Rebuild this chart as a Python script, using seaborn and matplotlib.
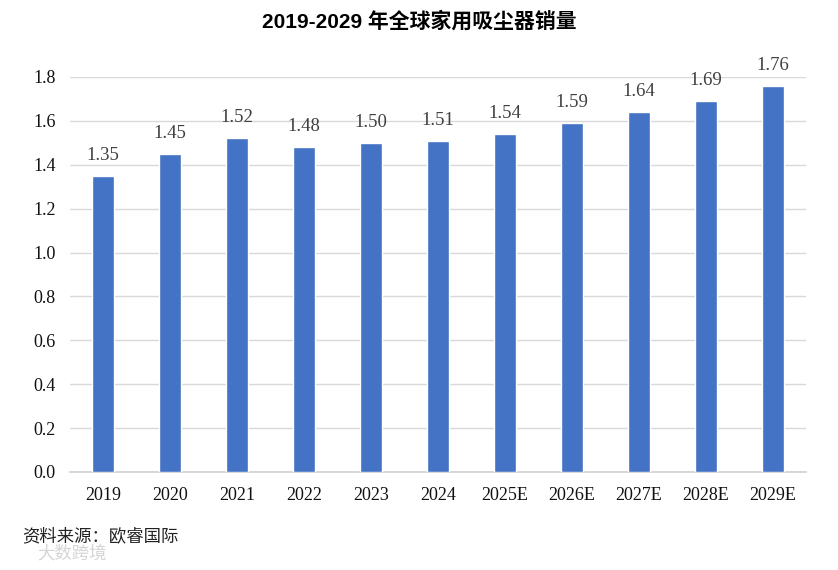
import matplotlib.pyplot as plt
import seaborn as sns
import pandas as pd

years = ['2019', '2020', '2021', '2022', '2023', '2024',
         '2025E', '2026E', '2027E', '2028E', '2029E']
sales = [1.35, 1.45, 1.52, 1.48, 1.50, 1.51, 1.54, 1.59, 1.64, 1.69, 1.76]
y_ticks = [0.0, 0.2, 0.4, 0.6, 0.8, 1.0, 1.2, 1.4, 1.6, 1.8]

sns.set_style('white')
plt.rcParams['font.family'] = ['Liberation Serif', 'Noto Sans CJK SC', 'DejaVu Sans']

df = pd.DataFrame({'year': years, 'sales': sales})

fig = plt.figure(figsize=(8.38, 5.7), dpi=100)
ax = fig.add_axes([0.083, 0.172, 0.879, 0.693])
sns.barplot(data=df, x='year', y='sales', color='#4472C4', width=0.33,
            saturation=1, ax=ax, zorder=3)

# value labels above bars
for i, v in enumerate(sales):
    ax.text(i, v + 0.055, f'{v:.2f}', ha='center', va='bottom',
            fontsize=13.5, color='#404040')

ax.set_ylim(0, 1.8)
ax.set_xlim(-0.5, len(years) - 0.5)
ax.set_yticks(y_ticks)
ax.set_yticklabels([f'{t:.1f}' for t in y_ticks])
ax.yaxis.grid(True, color='#d9d9d9', linewidth=1, zorder=0)
ax.set_axisbelow(True)
for s in ['top', 'right', 'left']:
    ax.spines[s].set_visible(False)
ax.spines['bottom'].set_color('#d0d0d0')
ax.spines['bottom'].set_linewidth(1.2)
ax.tick_params(axis='both', length=0, labelsize=13, colors='#111111')
ax.tick_params(axis='x', pad=11)
ax.tick_params(axis='y', pad=10)
ax.set_xlabel('')
ax.set_ylabel('')

fig.text(0.5, 0.962, '2019-2029 年全球家用吸尘器销量', ha='center', va='center',
         fontsize=15, fontweight='bold', color='black',
         family=['Liberation Sans', 'Noto Sans CJK SC'])
fig.text(0.026, 0.06, '资料来源：欧睿国际', ha='left', va='center',
         fontsize=12.5, family=['Noto Sans CJK SC'], color='#222222')
fig.text(0.045, 0.03, '大数跨境', ha='left', va='center',
         fontsize=12.5, family=['Noto Sans CJK SC'], color='#d5d5d5')

fig.savefig('out.png', dpi=100)
plt.close(fig)
